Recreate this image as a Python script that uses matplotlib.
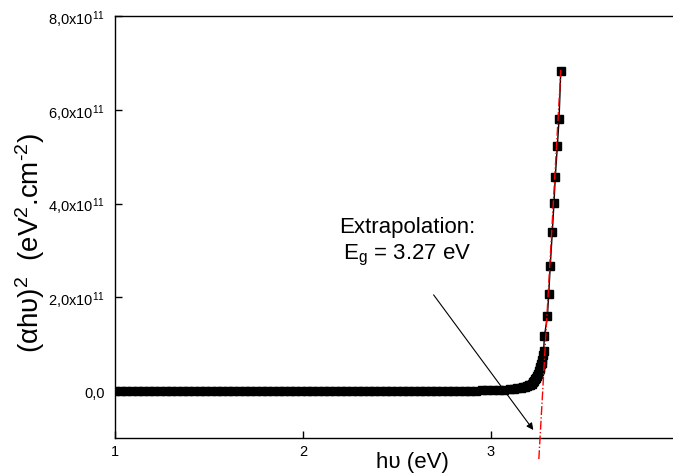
import matplotlib
matplotlib.use("Agg")
import matplotlib.pyplot as plt
from matplotlib.ticker import FixedLocator, FuncFormatter

plt.rcParams['font.family'] = ['Liberation Sans', 'DejaVu Sans']
plt.rcParams['mathtext.fontset'] = 'custom'
plt.rcParams['mathtext.rm'] = 'Liberation Sans'
plt.rcParams['mathtext.it'] = 'Liberation Sans'
plt.rcParams['mathtext.default'] = 'regular'

# photon energy (eV) and (alpha h nu)^2 in units of 1e11 eV^2.cm^-2
hv = [1.00, 1.03, 1.06, 1.09, 1.12, 1.15, 1.18, 1.21, 1.24, 1.27,
      1.30, 1.33, 1.36, 1.39, 1.42, 1.45, 1.48, 1.51, 1.54, 1.57,
      1.60, 1.63, 1.66, 1.69, 1.72, 1.75, 1.78, 1.81, 1.84, 1.87,
      1.90, 1.93, 1.96, 1.99, 2.02, 2.05, 2.08, 2.11, 2.14, 2.17,
      2.20, 2.23, 2.26, 2.29, 2.32, 2.35, 2.38, 2.41, 2.44, 2.47,
      2.50, 2.53, 2.56, 2.59, 2.62, 2.65, 2.68, 2.71, 2.74, 2.77,
      2.80, 2.83, 2.86, 2.89, 2.92, 2.95, 2.98, 3.01, 3.04, 3.07,
      3.10, 3.12, 3.14, 3.16, 3.17, 3.18, 3.19, 3.20, 3.21, 3.216,
      3.222, 3.228, 3.234, 3.240, 3.245, 3.250, 3.255, 3.259, 3.263, 3.267,
      3.270, 3.273, 3.277, 3.280, 3.284, 3.300, 3.307, 3.315, 3.326, 3.335,
      3.342, 3.353, 3.362, 3.371]
alpha_hv_sq = [0.00, 0.00, 0.00, 0.00, 0.00, 0.00, 0.00, 0.00, 0.00, 0.00,
               0.00, 0.00, 0.00, 0.00, 0.00, 0.00, 0.00, 0.00, 0.00, 0.00,
               0.00, 0.00, 0.00, 0.00, 0.00, 0.00, 0.00, 0.00, 0.00, 0.00,
               0.00, 0.00, 0.00, 0.00, 0.00, 0.00, 0.00, 0.00, 0.00, 0.00,
               0.00, 0.00, 0.00, 0.00, 0.00, 0.00, 0.00, 0.00, 0.00, 0.00,
               0.00, 0.00, 0.00, 0.00, 0.00, 0.00, 0.00, 0.00, 0.01, 0.01,
               0.01, 0.01, 0.01, 0.01, 0.01, 0.02, 0.02, 0.02, 0.03, 0.03,
               0.04, 0.05, 0.06, 0.07, 0.08, 0.09, 0.10, 0.12, 0.14, 0.16,
               0.19, 0.22, 0.25, 0.29, 0.33, 0.37, 0.42, 0.47, 0.52, 0.57,
               0.61, 0.66, 0.76, 0.86, 1.17, 1.60, 2.07, 2.66, 3.39, 4.01,
               4.57, 5.23, 5.80, 6.82]

# linear extrapolation line (red dash-dot)
fit_hv = [3.2545, 3.3714]
fit_y = [-1.45, 6.85]

ytick_vals = [0, 2, 4, 6, 8]
ytick_labels = ['0,0', '2,0x10$^{11}$', '4,0x10$^{11}$', '6,0x10$^{11}$', '8,0x10$^{11}$']
xtick_vals = [1, 2, 3]

fig = plt.figure(figsize=(6.73, 4.77), dpi=100)
ax = fig.add_axes([115 / 673, 38 / 477, 564 / 673, 422 / 477])

ax.plot(hv, alpha_hv_sq, color='black', lw=1.0, marker='s', markersize=5.6,
        markerfacecolor='black', markeredgecolor='black', zorder=3)
ax.plot(fit_hv, fit_y, color='red', lw=1.0, linestyle='-.', zorder=4, clip_on=False)

ax.set_xlim(1, 4)
ax.set_ylim(-1.0, 8.0)

ax.xaxis.set_major_locator(FixedLocator(xtick_vals))
ax.yaxis.set_major_locator(FixedLocator(ytick_vals))
ax.yaxis.set_major_formatter(FuncFormatter(lambda v, p: ytick_labels[ytick_vals.index(int(round(v)))]))
ax.tick_params(direction='in', length=5, width=1, labelsize=10.5, top=False, right=False)
ax.tick_params(axis='y', pad=7)
ax.tick_params(axis='x', pad=4)
for s in ax.spines.values():
    s.set_linewidth(1.0)

ax.set_xlabel('hυ (eV)', fontsize=16)
ax.xaxis.set_label_coords(0.527, -0.03)
ax.set_ylabel('(αhυ)$^2$  (eV$^2$.cm$^{\u20102}$)', fontsize=20)
ax.yaxis.set_label_coords(-0.12, 0.464)

ax.text(2.556, 3.40, 'Extrapolation:', fontsize=16, ha='center', va='baseline')
ax.text(2.556, 2.82, 'E$_g$ = 3.27 eV', fontsize=16, ha='center', va='baseline')
ax.annotate('', xy=(3.234, -0.877), xytext=(2.686, 2.10),
            arrowprops=dict(arrowstyle='-|>', color='black', lw=0.8, mutation_scale=10))

fig.savefig('out.png', dpi=100)
